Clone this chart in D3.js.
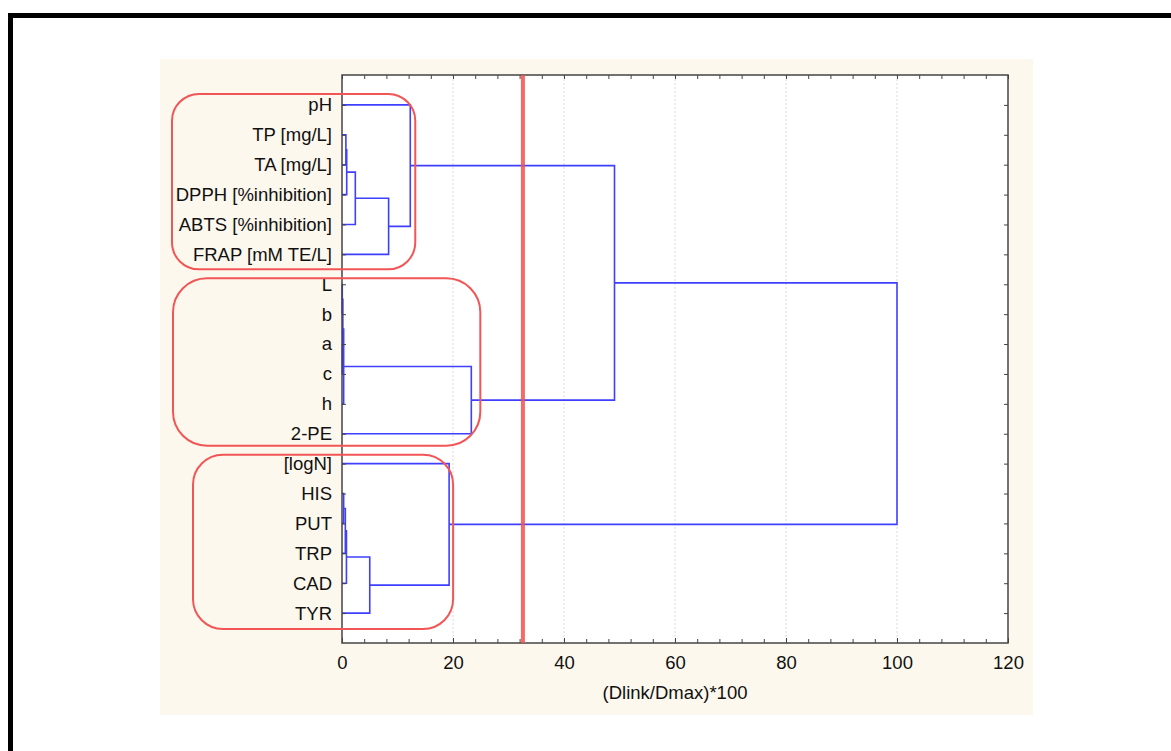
<!DOCTYPE html>
<html>
<head>
<meta charset="utf-8">
<script src="https://cdn.jsdelivr.net/npm/d3@7"></script>
<style>
  body { margin: 0; background: #fff; }
  text { font-family: "Liberation Sans", Arial, sans-serif; }
</style>
</head>
<body>
<svg id="chart" width="1171" height="751"></svg>
<script>
// leaves, top to bottom
var leaves = ["pH", "TP [mg/L]", "TA [mg/L]", "DPPH [%inhibition]", "ABTS [%inhibition]",
  "FRAP [mM TE/L]", "L", "b", "a", "c", "h", "2-PE", "[logN]", "HIS", "PUT", "TRP", "CAD", "TYR"];

// linkage: new cluster n = leaves.length + k joins mergeLeft[k] and mergeRight[k]
var mergeLeft  = [1, 18, 19, 20, 0, 6, 8, 23, 25, 26, 13, 28, 29, 30, 12, 22, 33];
var mergeRight = [2, 3, 4, 5, 21, 7, 9, 24, 10, 11, 14, 15, 16, 17, 31, 27, 32];
var mergeDist  = [0.7, 0.85, 2.4, 8.4, 12.3, 0.05, 0.1, 0.15, 0.3, 23.3, 0.3, 0.6, 0.8, 5.0, 19.3, 49.1, 100];

var xMajor = [0, 20, 40, 60, 80, 100, 120];
var cutLevel = 32.6;

// highlighted groups: first leaf, last leaf, cluster node
var groupFirst = [0, 6, 12];
var groupLast  = [5, 11, 17];
var groupNode  = [22, 27, 32];

var svg = d3.select("#chart"),
    margin = {top: 75, right: 163, bottom: 108, left: 342},
    width = 1171 - margin.left - margin.right,
    height = 751 - margin.top - margin.bottom;

// outer frame + panel
svg.append("rect").attr("x", 10.5).attr("y", 15.5).attr("width", 1300).attr("height", 900)
  .attr("fill", "none").attr("stroke", "#000").attr("stroke-width", 5);
svg.append("rect").attr("x", 160).attr("y", 59).attr("width", 873).attr("height", 656)
  .attr("fill", "#fdf8ed");

var g = svg.append("g").attr("transform", "translate(" + margin.left + "," + margin.top + ")");

var x = d3.scaleLinear().domain([0, 120]).range([0, width]);
var y = d3.scaleLinear().domain([-1, leaves.length]).range([0, height]);

g.append("rect").attr("width", width).attr("height", height).attr("fill", "#fff");

// grid
g.selectAll("line.grid")
  .data(xMajor.slice(1, -1))
  .enter().append("line")
    .attr("class", "grid")
    .attr("x1", function(d) { return x(d); })
    .attr("x2", function(d) { return x(d); })
    .attr("y1", 0).attr("y2", height)
    .attr("stroke", "#d9d9d9").attr("stroke-dasharray", "2,2");

// build dendrogram nodes
var nodeY = leaves.map(function(d, i) { return i; });
var nodeD = leaves.map(function() { return 0; });
var links = [];
for (var k = 0; k < mergeDist.length; k++) {
  var a = mergeLeft[k], b = mergeRight[k];
  links.push({a: a, b: b, d: mergeDist[k]});
  nodeY.push((nodeY[a] + nodeY[b]) / 2);
  nodeD.push(mergeDist[k]);
}

g.selectAll("path.link")
  .data(links)
  .enter().append("path")
    .attr("class", "link")
    .attr("fill", "none")
    .attr("stroke", "#3f3fff")
    .attr("stroke-width", 1.6)
    .attr("d", function(l) {
      return "M" + x(nodeD[l.a]) + "," + y(nodeY[l.a]) +
        "H" + x(l.d) + "V" + y(nodeY[l.b]) + "H" + x(nodeD[l.b]);
    });

// axes
function styleAxis(sel) {
  sel.select(".domain").remove();
  sel.selectAll(".tick line").attr("stroke", "#444");
  sel.selectAll(".tick text").attr("fill", "#111").style("font-size", "18.5px")
    .style("font-family", "'Liberation Sans', Arial, sans-serif");
}

var minor = d3.range(0, 121, 4);

g.append("g").attr("transform", "translate(0," + height + ")")
  .call(d3.axisBottom(x).tickValues(minor).tickSize(-4).tickFormat(""))
  .call(styleAxis);
g.append("g").attr("transform", "translate(0," + height + ")")
  .call(d3.axisBottom(x).tickValues(xMajor).tickSize(-5).tickPadding(13).tickFormat(d3.format("d")))
  .call(styleAxis);
g.append("g")
  .call(d3.axisTop(x).tickValues(minor).tickSize(-4).tickFormat(""))
  .call(styleAxis);

g.append("g")
  .call(d3.axisLeft(y).tickValues(d3.range(leaves.length)).tickSize(-4).tickPadding(10)
    .tickFormat(function(i) { return leaves[i]; }))
  .call(styleAxis);
g.append("g").attr("transform", "translate(" + width + ",0)")
  .call(d3.axisRight(y).tickValues(d3.range(leaves.length)).tickSize(-4).tickFormat(""))
  .call(styleAxis);

g.append("rect").attr("width", width).attr("height", height)
  .attr("fill", "none").attr("stroke", "#444").attr("stroke-width", 1.5);

g.append("text")
  .attr("x", width / 2).attr("y", height + 56)
  .attr("text-anchor", "middle")
  .attr("fill", "#111")
  .style("font-size", "18.5px")
  .text("(Dlink/Dmax)*100");

// cut line
g.append("line")
  .attr("x1", x(cutLevel)).attr("x2", x(cutLevel))
  .attr("y1", 0).attr("y2", height)
  .attr("stroke", "#f25050").attr("stroke-opacity", 0.85).attr("stroke-width", 4);

// group boxes (layout offsets in px: left edge, top, bottom, right pad)
var boxLeft = [172, 173, 193];
var boxTop = [11, 6, 9];
var boxBottom = [15, 12, 16];
var boxRight = [5, 9, 4];
var boxRadius = [27, 34, 30];

svg.selectAll("rect.grp")
  .data(groupNode)
  .enter().append("rect")
    .attr("class", "grp")
    .attr("x", function(d, i) { return boxLeft[i]; })
    .attr("y", function(d, i) { return margin.top + y(groupFirst[i]) - boxTop[i]; })
    .attr("width", function(d, i) { return margin.left + x(nodeD[d]) + boxRight[i] - boxLeft[i]; })
    .attr("height", function(d, i) {
      return y(groupLast[i]) - y(groupFirst[i]) + boxTop[i] + boxBottom[i];
    })
    .attr("rx", function(d, i) { return boxRadius[i]; })
    .attr("fill", "none")
    .attr("stroke", "#f25555")
    .attr("stroke-width", 2);
</script>
</body>
</html>
